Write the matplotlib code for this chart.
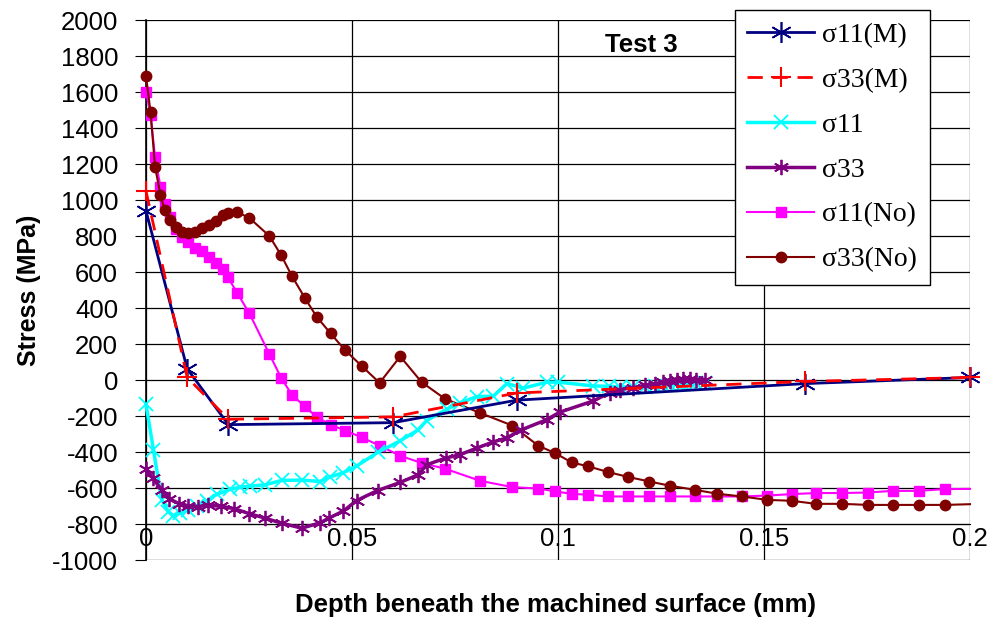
import matplotlib
matplotlib.use("Agg")
import matplotlib.pyplot as plt

plt.rcParams['axes.unicode_minus'] = False

# measured (M) series
x_m = [0, 0.01, 0.02, 0.06, 0.09, 0.16, 0.2]
s11_m = [940, 62, -248, -237, -112, -20, 14]
s33_m = [1050, 14, -218, -205, -72, -8, 14]

# simulated sigma11 / sigma33
x_s11 = [0, 0.0018, 0.0038, 0.0054, 0.0066, 0.0083, 0.0101, 0.0124, 0.0147, 0.0172,
         0.0204, 0.0228, 0.0252, 0.0289, 0.033, 0.0378, 0.0422, 0.0447, 0.0477, 0.0511,
         0.0564, 0.0617, 0.0661, 0.0681, 0.073, 0.0762, 0.0803, 0.0843, 0.0876, 0.0916,
         0.0973, 0.1001, 0.1086, 0.1124, 0.115, 0.1183, 0.1211, 0.1235, 0.1256, 0.1272,
         0.1288, 0.1304, 0.132, 0.1336, 0.1357]
s11 = [-136, -387, -665, -731, -753, -740, -721, -700, -672, -635,
       -608, -595, -590, -582, -558, -556, -564, -538, -517, -478,
       -400, -338, -276, -225, -162, -127, -92, -90, -20, -45,
       -12, -12, -33, -35, -38, -40, -38, -33, -28, -25,
       -22, -20, -18, -18, -15]

x_s33 = [0, 0.0016, 0.0038, 0.0056, 0.0081, 0.0103, 0.0127, 0.0151, 0.0181, 0.0213,
         0.025, 0.029, 0.033, 0.0378, 0.0422, 0.0445, 0.0479, 0.0511, 0.0562, 0.0617,
         0.0661, 0.0681, 0.0727, 0.0762, 0.0803, 0.0843, 0.0875, 0.0912, 0.0973, 0.1004,
         0.1086, 0.1125, 0.115, 0.1183, 0.1211, 0.1235, 0.1256, 0.1272, 0.1288, 0.1304,
         0.132, 0.1336, 0.1357]
s33 = [-495, -545, -610, -659, -688, -699, -703, -696, -701, -714,
       -742, -768, -796, -823, -794, -766, -728, -670, -614, -569,
       -526, -471, -434, -415, -378, -344, -322, -276, -220, -179,
       -116, -71, -53, -43, -29, -20, -12, -7, -2, 3,
       3, 0, -1]

# no machining series
x_no = [0, 0.0011, 0.0022, 0.0035, 0.0045, 0.0059, 0.0073, 0.0087, 0.0101, 0.0118,
        0.0135, 0.0153, 0.0169, 0.0186, 0.0198, 0.0222, 0.0251, 0.0299, 0.0328, 0.0354,
        0.0385, 0.0414, 0.0448, 0.0483, 0.0524, 0.0567, 0.0617, 0.0669, 0.0726, 0.0811,
        0.0889, 0.0952, 0.0993, 0.1033, 0.1074, 0.1121, 0.1171, 0.1222, 0.1273, 0.1332,
        0.1387, 0.1446, 0.1508, 0.1567, 0.1626, 0.169, 0.1752, 0.1812, 0.1875, 0.1939, 0.2]
s11_no = [1600, 1474, 1237, 1075, 980, 904, 840, 792, 764, 736,
          716, 685, 651, 618, 574, 481, 370, 146, 12, -82,
          -146, -205, -248, -281, -319, -365, -421, -461, -493, -560,
          -595, -603, -619, -632, -638, -647, -647, -647, -647, -647,
          -647, -647, -642, -634, -628, -628, -625, -616, -616, -606, -605]
s33_no = [1689, 1489, 1184, 1030, 946, 887, 848, 825, 815, 824,
          842, 862, 886, 916, 926, 932, 900, 801, 694, 578,
          458, 352, 259, 166, 77, -16, 131, -12, -105, -183,
          -253, -365, -406, -458, -480, -511, -539, -564, -588, -610,
          -632, -647, -666, -671, -688, -688, -694, -694, -694, -694, -690]

fig = plt.figure(figsize=(9.99, 6.19), dpi=100)
ax = fig.add_axes([146/999, 59/619, 824/999, 540/619])

star = (6, 2, 0)
last_off = list(range(len(x_no) - 1))

ax.plot(x_m, s11_m, color='#000080', lw=2, marker=star, ms=15, mew=1.2,
        label='σ11(M)', clip_on=False, zorder=5)
ax.plot(x_m, s33_m, color='#ff0000', lw=2, ls=(0, (5.5, 3.5)), marker='+', ms=15, mew=1.5,
        label='σ33(M)', clip_on=False, zorder=5)
ax.plot(x_s11, s11, color='#00ffff', lw=2.5, marker='x', ms=10, mew=1.3,
        label='σ11', clip_on=False, zorder=4)
ax.plot(x_s33, s33, color='#800080', lw=2.5, marker=star, ms=11, mew=1.3,
        label='σ33', clip_on=False, zorder=4)
ax.plot(x_no, s11_no, color='#ff00ff', lw=1.5, marker='s', ms=7,
        markevery=last_off, label='σ11(No)', clip_on=False, zorder=3)
ax.plot(x_no, s33_no, color='#800000', lw=1.5, marker='o', ms=7.5,
        markevery=last_off, label='σ33(No)', clip_on=False, zorder=3)

ax.set_xlim(0, 0.2)
ax.set_ylim(-1000, 2000)
ax.set_xticks([0, 0.05, 0.1, 0.15, 0.2])
ax.set_xticklabels(['0', '0.05', '0.1', '0.15', '0.2'])
ax.set_yticks(range(-1000, 2001, 200))
ax.grid(True, color='black', lw=0.9)
ax.set_axisbelow(True)

for s in ['top', 'right']:
    ax.spines[s].set_visible(False)
ax.spines['bottom'].set_position(('data', -800))
ax.spines['left'].set_linewidth(1.2)
ax.tick_params(axis='y', direction='out', length=8, labelsize=18.5, pad=12)
ax.tick_params(axis='x', length=0, labelsize=18.5, pad=2)
for lab in ax.get_xticklabels() + ax.get_yticklabels():
    lab.set_fontfamily('Liberation Sans')

ax.set_ylabel('Stress (MPa)', fontsize=18, fontweight='bold',
              fontfamily='Liberation Sans', labelpad=8)
fig.text(0.556, 0.012, 'Depth beneath the machined surface (mm)', ha='center',
         fontsize=18.5, fontweight='bold', fontfamily='Liberation Sans')
ax.text(0.1203, 1860, 'Test 3', fontsize=18.5, fontweight='bold',
        fontfamily='Liberation Sans', ha='center', va='center')

leg = fig.legend(loc='upper left', bbox_to_anchor=(0.7357, 0.9838), frameon=True,
                 fancybox=False, framealpha=1, edgecolor='black',
                 prop={'family': 'Liberation Serif', 'size': 20},
                 handlelength=2.4, labelspacing=0.7, borderpad=0.45,
                 handletextpad=0.3, borderaxespad=0)
leg.get_frame().set_linewidth(1.0)

fig.savefig('out.png', dpi=100)
